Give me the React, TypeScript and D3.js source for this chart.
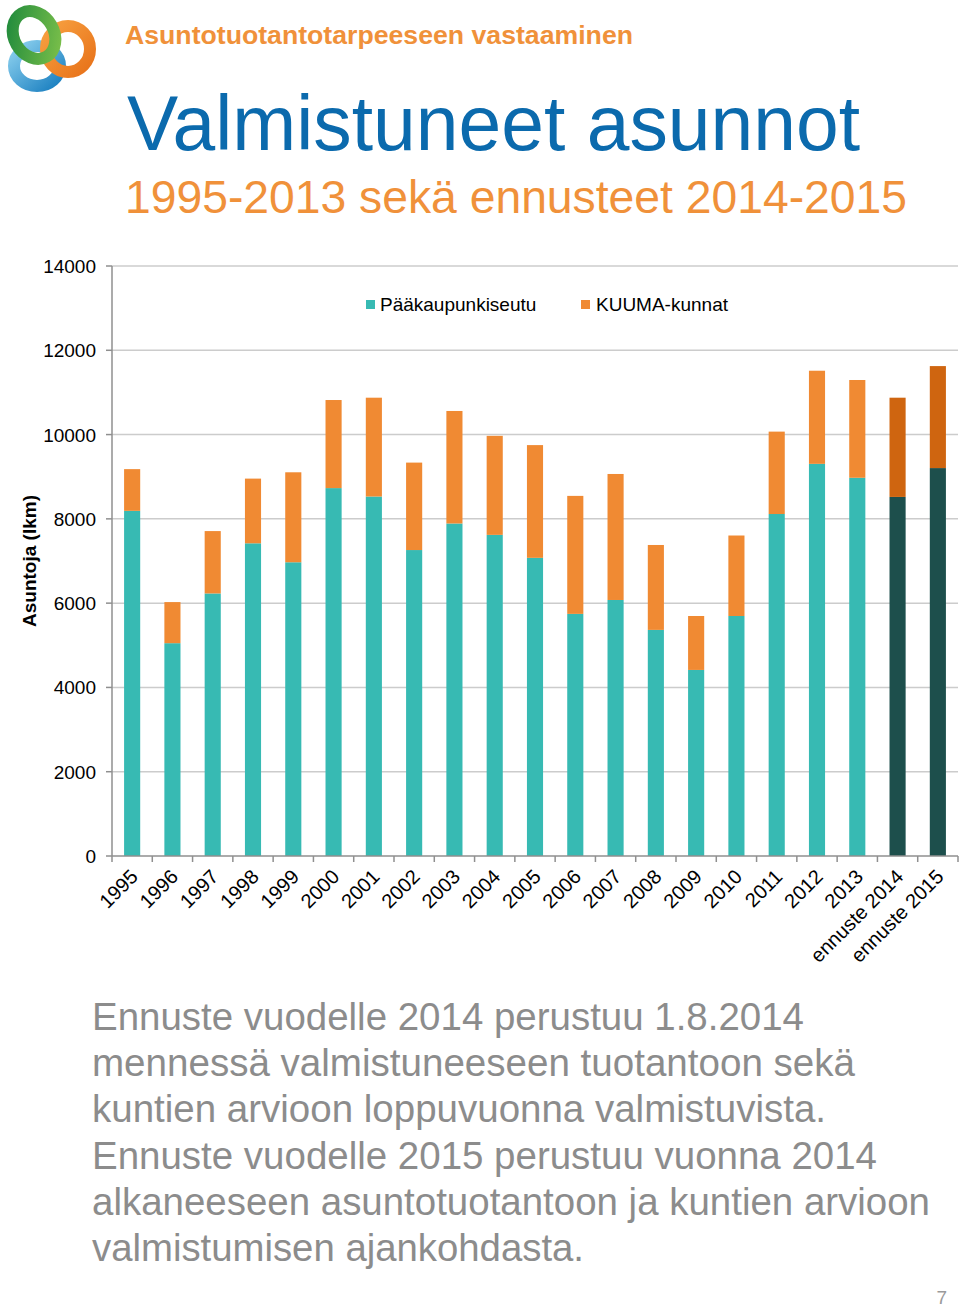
import React from "react";
import * as d3 from "d3";

const categories = ["1995","1996","1997","1998","1999","2000","2001","2002","2003","2004","2005","2006","2007","2008","2009","2010","2011","2012","2013","ennuste 2014","ennuste 2015"];
const paakaupunkiseutu = [8190,5050,6230,7420,6970,8730,8530,7260,7890,7620,7075,5745,6075,5365,4415,5695,8115,9305,8975,8520,9205];
const kuumaKunnat = [990,975,1480,1535,2135,2090,2345,2075,2670,2350,2675,2800,2990,2015,1280,1910,1955,2210,2320,2355,2420];
const forecast = [false,false,false,false,false,false,false,false,false,false,false,false,false,false,false,false,false,false,false,true,true];
const yTicks = [0,2000,4000,6000,8000,10000,12000,14000];
const seriesNames = ["Pääkaupunkiseutu","KUUMA-kunnat"];
const bodyLines = [
  "Ennuste vuodelle 2014 perustuu 1.8.2014",
  "mennessä valmistuneeseen tuotantoon sekä",
  "kuntien arvioon loppuvuonna valmistuvista.",
  "Ennuste vuodelle 2015 perustuu vuonna 2014",
  "alkaneeseen asuntotuotantoon ja kuntien arvioon",
  "valmistumisen ajankohdasta.",
];
const bodyWidths = [712, 763, 734, 785, 838, 492];

const TEAL = "#37bab3";
const ORANGE = "#f08a33";
const TEAL_DARK = "#1d4f4c";
const ORANGE_DARK = "#cf6510";

export default function App() {
  const left = 112, right = 958, top = 266, bottom = 856;
  const x = d3.scaleBand<string>().domain(categories).range([left, right]).paddingInner(0.6).paddingOuter(0.3);
  const y = d3.scaleLinear().domain([0, 14000]).range([bottom, top]);
  const step = x.step();
  const font = "'Liberation Sans', Arial, Helvetica, sans-serif";

  return (
    <svg width={960} height={1307} style={{ position: "absolute", left: 0, top: 0, background: "#fff" }} fontFamily={font}>
      <defs>
        <linearGradient id="gGreen" x1="0" y1="0" x2="1" y2="1">
          <stop offset="0" stopColor="#1f8a3c" />
          <stop offset="1" stopColor="#7cc04a" />
        </linearGradient>
        <linearGradient id="gOrange" x1="0" y1="0" x2="1" y2="1">
          <stop offset="0" stopColor="#f7a040" />
          <stop offset="1" stopColor="#e8731a" />
        </linearGradient>
        <linearGradient id="gBlue" x1="0" y1="0" x2="1" y2="1">
          <stop offset="0" stopColor="#8acfee" />
          <stop offset="1" stopColor="#1a7fc0" />
        </linearGradient>
      </defs>
      {/* logo */}
      <g>
        <ellipse cx={37} cy={66} rx={23} ry={20} fill="none" stroke="url(#gBlue)" strokeWidth={12} />
        <ellipse cx={68} cy={49} rx={22} ry={23} fill="none" stroke="url(#gOrange)" strokeWidth={12} />
        <ellipse cx={34} cy={35} rx={20} ry={25} fill="none" stroke="url(#gGreen)" strokeWidth={12} transform="rotate(-30 34 35)" />
      </g>
      {/* titles */}
      <text x={125} y={44} fontSize={26} fontWeight="bold" fill="#f0913a" textLength={508} lengthAdjust="spacingAndGlyphs">Asuntotuotantotarpeeseen vastaaminen</text>
      <text x={127} y={150} fontSize={77} fill="#0b6aad" textLength={733} lengthAdjust="spacingAndGlyphs">Valmistuneet asunnot</text>
      <text x={125} y={213} fontSize={47} fill="#f0913a" textLength={782} lengthAdjust="spacingAndGlyphs">1995-2013 sekä ennusteet 2014-2015</text>

      {/* gridlines */}
      {yTicks.filter(t => t > 0).map(t => (
        <line key={"g" + t} x1={left} x2={right} y1={y(t)} y2={y(t)} stroke="#cccccc" strokeWidth={1.5} />
      ))}
      {/* y axis */}
      <line x1={left} x2={left} y1={top} y2={bottom} stroke="#8f8f8f" strokeWidth={1.5} />
      {yTicks.map(t => (
        <g key={"yt" + t}>
          <line x1={left - 6} x2={left} y1={y(t)} y2={y(t)} stroke="#8f8f8f" strokeWidth={1.5} />
          <text x={96} y={y(t) + 7} fontSize={19} textAnchor="end" fill="#000">{t}</text>
        </g>
      ))}
      <text transform={`translate(36, 561) rotate(-90)`} fontSize={19} fontWeight="bold" textAnchor="middle" fill="#000">Asuntoja (lkm)</text>

      {/* legend */}
      <rect x={366} y={300} width={9} height={9} fill={TEAL} />
      <text x={380} y={311} fontSize={19} fill="#000">{seriesNames[0]}</text>
      <rect x={581} y={300} width={9} height={9} fill={ORANGE} />
      <text x={596} y={311} fontSize={19} fill="#000">{seriesNames[1]}</text>

      {/* bars */}
      {categories.map((c, i) => {
        const bx = x(c)!;
        const w = x.bandwidth();
        const a = paakaupunkiseutu[i];
        const b = kuumaKunnat[i];
        return (
          <g key={"b" + c}>
            <rect x={bx} y={y(a)} width={w} height={y(0) - y(a)} fill={forecast[i] ? TEAL_DARK : TEAL} />
            <rect x={bx} y={y(a + b)} width={w} height={y(a) - y(a + b)} fill={forecast[i] ? ORANGE_DARK : ORANGE} />
          </g>
        );
      })}

      {/* x axis */}
      <line x1={left} x2={right} y1={bottom} y2={bottom} stroke="#8f8f8f" strokeWidth={1.5} />
      {d3.range(categories.length + 1).map(i => (
        <line key={"xt" + i} x1={left + i * step} x2={left + i * step} y1={bottom} y2={bottom + 6} stroke="#8f8f8f" strokeWidth={1.5} />
      ))}
      {categories.map(c => {
        const cx = x(c)! + x.bandwidth() / 2;
        return (
          <text key={"xl" + c} transform={`translate(${cx + 7}, 878) rotate(-45)`} fontSize={20} textAnchor="end" fill="#000">{c}</text>
        );
      })}

      {/* body text */}
      {bodyLines.map((l, i) => (
        <text key={"bl" + i} x={92} y={1030 + i * 46.2} fontSize={38} fill="#8c8c8c"
          fontFamily="'Liberation Sans Narrow', 'Arial Narrow', 'Liberation Sans', Arial, sans-serif"
          textLength={bodyWidths[i]} lengthAdjust="spacingAndGlyphs">{l}</text>
      ))}
      <text x={947} y={1304} fontSize={19} textAnchor="end" fill="#9a9a9a">7</text>
    </svg>
  );
}
